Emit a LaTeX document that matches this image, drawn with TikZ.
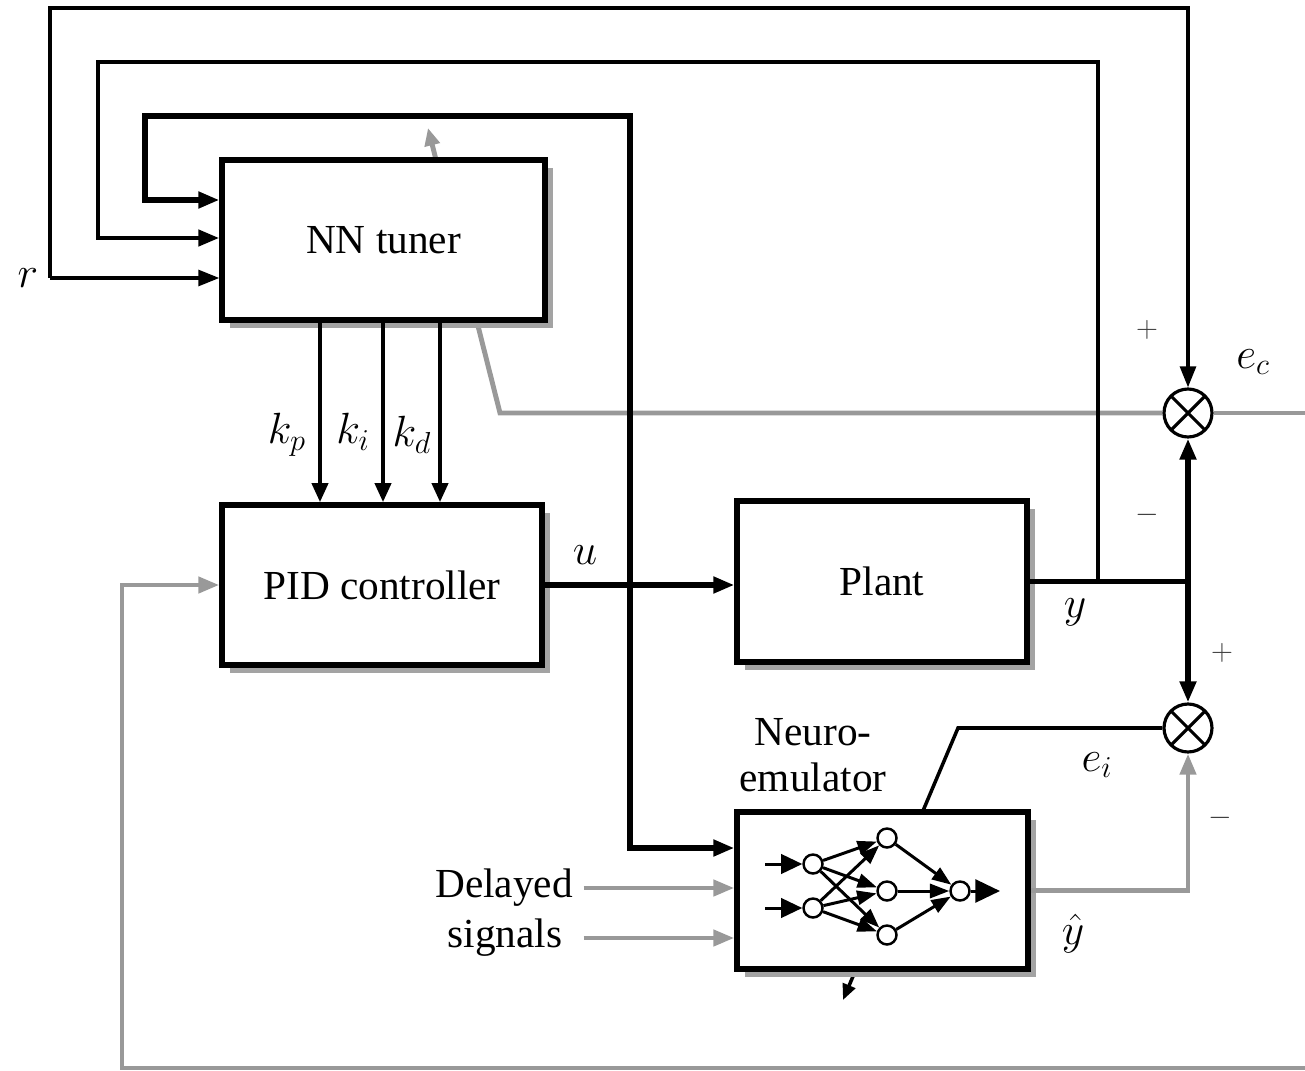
\documentclass[tikz,border=0pt]{standalone}
\usepackage{fontspec}
\setmainfont{Liberation Serif}
\usetikzlibrary{arrows.meta,positioning,backgrounds,shadows,calc}
\definecolor{sigGray}{HTML}{999999}
\definecolor{shadowGray}{HTML}{A3A3A3}

\begin{document}
\begin{tikzpicture}[x=0.02cm, y=-0.02cm,
    blk/.style={
      rectangle, draw=black, fill=white, line width=3pt, inner sep=0pt,
      drop shadow={shadow xshift=0.16cm, shadow yshift=-0.16cm, fill=shadowGray, opacity=1},
      font=\fontsize{23.5}{27}\selectfont
    },
    sumnode/.style={
      circle, draw=black, fill=white, line width=1.8pt, minimum size=0.96cm, inner sep=0pt,
      path picture={\draw[line width=1.8pt]
        (path picture bounding box.north west) -- (path picture bounding box.south east)
        (path picture bounding box.north east) -- (path picture bounding box.south west);}
    },
    neuron/.style={circle, draw=black, fill=white, line width=1.4pt, minimum size=0.38cm, inner sep=0pt},
    lbl/.style={font=\fontsize{23.5}{26}\selectfont, inner sep=2pt},
    sgn/.style={font=\fontsize{17}{18}\selectfont, text=black!75},
    arr1/.style={-{Triangle[length=12pt, width=9pt]}, line width=2pt},
    arr2/.style={-{Triangle[length=12pt, width=9pt]}, line width=2.8pt},
    arr3/.style={-{Triangle[length=12pt, width=9pt]}, line width=3.2pt},
    arrk/.style={-{Triangle[length=11pt, width=9pt]}, line width=2.6pt},
    garr/.style={-{Triangle[length=12pt, width=9pt]}, line width=2.8pt, draw=sigGray},
    gline/.style={line width=2.8pt, draw=sigGray},
    nnarr/.style={-{Triangle[length=11pt, width=8pt]}, line width=1.7pt},
    nnin/.style={-{Triangle[length=12pt, width=11pt]}, line width=1.7pt}
  ]
    \useasboundingbox (0,0) rectangle (1305,1071);

    % blocks
    \node[blk, minimum width=6.46cm, minimum height=3.2cm] (nn) at (383.5,240) {NN tuner};
    \node[blk, minimum width=6.4cm, minimum height=3.2cm] (pid) at (382,585) {PID controller};
    \node[blk, minimum width=5.8cm, minimum height=3.22cm] (plant) at (882,581.5) {Plant};
    \node[blk, minimum width=5.82cm, minimum height=3.14cm] (emu) at (882.5,890.5) {};
    \node[lbl, align=center] (emulbl) at (813,755) {Neuro-\\emulator};

    \node[sumnode] (ec) at (1188,413) {};
    \node[sumnode] (ei) at (1188,728) {};

    % branch points
    \coordinate (rin) at (50,278);
    \coordinate (uj) at (pid.east -| 630,0);
    \coordinate (yj) at (plant.east -| ec);
    \coordinate (yb) at (plant.east -| 1098,0);
    \coordinate (ecout) at (1305,413);
    \coordinate (fbin) at (1305,1068);

    % signals
    \node[lbl, anchor=east] (rlbl) at (42,278) {$r$};
    \draw[arr1] (rin) -- (rin -| nn.west);
    \draw[arr1] (rin) -- (50,8) -| (ec.north);
    \draw[arr2] (yb) |- (98,62) |- (nn.west |- 0,238);
    \draw[arr3] (uj) |- (145,116) |- (nn.west |- 0,200);
    \draw[arr3] (uj) |- (emu.west |- 0,848);

    \draw[arrk] (nn.south -| 320,0) -- (pid.north -| 320,0);
    \draw[arrk] (nn.south -| 383,0) -- (pid.north -| 383,0);
    \draw[arrk] (nn.south -| 440,0) -- (pid.north -| 440,0);
    \node[lbl] (kp) at (287,435) {$k_p$};
    \node[lbl] (ki) at (353,432) {$k_i$};
    \node[lbl] (kd) at (412,435) {$k_d$};

    \draw[arr3] (pid.east) -- (pid.east -| plant.west);
    \node[lbl] (ulbl) at (585,555) {$u$};

    \draw[line width=3.2pt] (plant.east) -- (yj);
    \draw[arr3] (yj) -- (ec.south);
    \draw[arr3] (yj) -- (ei.north);
    \node[lbl] (ylbl) at (1075,612) {$y$};

    \node[sgn] (pc) at (1147,330) {$+$};
    \node[sgn] (mc) at (1147,515) {$-$};
    \node[sgn] (pi) at (1222,653) {$+$};
    \node[sgn] (mi) at (1220,818) {$-$};
    \node[lbl] (eclbl) at (1253,362) {$e_c$};
    \node[lbl] (eilbl) at (1097,765) {$e_i$};
    \node[lbl] (yhlbl) at (1073,934) {$\hat{y}$};

    % feedback and learning paths
    \draw[garr] (fbin) -| (pid.west -| 122,0) -- (pid.west);
    \draw[garr] (emu.east) -| (ei.south);
    \begin{scope}[on background layer]
      \draw[gline] (ec.east) -- (ecout);
      \draw[garr, -{Triangle[length=10pt, width=8.5pt]}] (ec.west) -- (500,413) -- (428,128);
      \draw[-{Triangle[length=9pt, width=7.5pt]}, line width=2pt] (ei.west) -- (958,728) -- (843,1000);
    \end{scope}

    \node[lbl] (dly1) at (504,888) {Delayed};
    \node[lbl] (dly2) at (505,938) {signals};
    \draw[garr] ([xshift=4pt]dly1.east) -- (dly1.east -| emu.west);
    \draw[garr] ([xshift=4pt]dly2.east -| dly1.east) -- (dly2.east -| emu.west);

    % network inside the emulator
    \node[neuron] (n1) at (813,864) {};
    \node[neuron] (n2) at (813,908) {};
    \node[neuron] (h1) at (887,838) {};
    \node[neuron] (h2) at (887,891) {};
    \node[neuron] (h3) at (887,935) {};
    \node[neuron] (o1) at (960,891) {};
    \coordinate (in1) at (765,864);
    \coordinate (in2) at (765,908);
    \coordinate (out1) at (1000,891);
    \draw[nnin] (in1) -- (n1);
    \draw[nnin] (in2) -- (n2);
    \foreach \i in {1,2}
      \foreach \j in {1,2,3}
        \draw[nnarr] (n\i) -- (h\j);
    \foreach \j in {1,2,3}
      \draw[nnarr] (h\j) -- (o1);
    \draw[-{Triangle[length=14pt, width=13pt]}, line width=1.7pt] (o1) -- (out1);
\end{tikzpicture}
\end{document}
